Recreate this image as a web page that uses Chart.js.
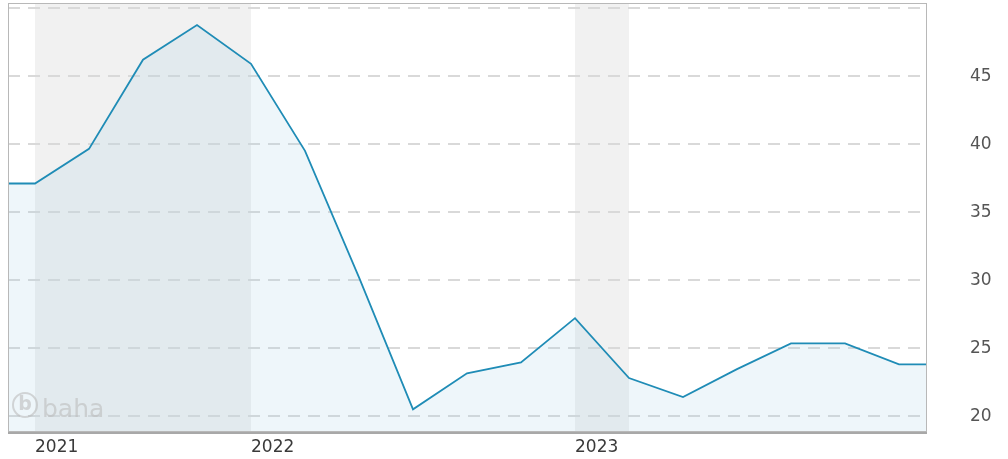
<!DOCTYPE html>
<html>
<head>
<meta charset="utf-8">
<script src="https://cdn.jsdelivr.net/npm/chart.js@4.4.0/dist/chart.umd.min.js"></script>
<style>
  html, body { margin: 0; padding: 0; background: #fff; overflow: hidden; }
  canvas { display: block; }
</style>
</head>
<body>
<canvas id="priceChart" width="1008" height="459"></canvas>
<script>
// values per period, first and last entries run past the visible range
const values = [37.1, 37.1, 39.65, 46.2, 48.75, 45.9, 39.5, 30.2, 20.5, 23.15, 23.95,
                27.2, 22.8, 21.4, 23.45, 25.35, 25.35, 23.8, 23.8];
const yearTicks = [0, 4, 10];
const yearLabels = ['2021', '2022', '2023'];
const bandFrom = [0, 10];
const bandTo = [4, 11];
const yTicks = [20, 25, 30, 35, 40, 45, 50];

const points = values.map((v, i) => ({ x: i - 1, y: v }));

const bands = {
    id: 'bands',
    beforeDraw(chart) {
        const { ctx, chartArea, scales } = chart;
        ctx.save();
        ctx.fillStyle = '#f1f1f1';
        bandFrom.forEach((f, i) => {
            const x1 = scales.x.getPixelForValue(f);
            const x2 = scales.x.getPixelForValue(bandTo[i]);
            ctx.fillRect(x1, chartArea.top, x2 - x1, chartArea.bottom - chartArea.top);
        });
        ctx.restore();
    }
};

const frame = {
    id: 'frame',
    afterDraw(chart) {
        const { ctx, chartArea: a } = chart;
        ctx.save();
        // watermark
        ctx.globalAlpha = 0.6;
        ctx.strokeStyle = '#bdbdbd';
        ctx.fillStyle = '#bdbdbd';
        ctx.lineWidth = 2;
        ctx.beginPath();
        ctx.arc(a.left + 17, a.bottom - 27, 12, 0, Math.PI * 2);
        ctx.stroke();
        ctx.font = 'bold 19px "DejaVu Sans"';
        ctx.textAlign = 'center';
        ctx.textBaseline = 'middle';
        ctx.fillText('b', a.left + 17, a.bottom - 27);
        ctx.font = '25px "DejaVu Sans"';
        ctx.textAlign = 'left';
        ctx.textBaseline = 'alphabetic';
        ctx.fillText('baha', a.left + 34, a.bottom - 15);
        ctx.globalAlpha = 1;
        // frame
        ctx.strokeStyle = '#b8b8b8';
        ctx.lineWidth = 1;
        ctx.strokeRect(a.left + 0.5, a.top - 0.5, a.right - a.left, a.bottom - a.top);
        ctx.strokeStyle = '#a8a8a8';
        ctx.lineWidth = 2;
        ctx.beginPath();
        ctx.moveTo(a.left, a.bottom + 1);
        ctx.lineTo(a.right + 1, a.bottom + 1);
        ctx.stroke();
        ctx.restore();
    }
};

const ctx = document.getElementById('priceChart').getContext('2d');

const priceChart = new Chart(ctx, {
    type: 'line',
    data: {
        datasets: [{
            data: points,
            borderColor: '#1f8cb6',
            borderWidth: 1.8,
            backgroundColor: 'rgba(170, 212, 228, 0.2)',
            fill: 'start',
            pointRadius: 0,
            tension: 0,
        }]
    },
    options: {
        responsive: false,
        animation: false,
        devicePixelRatio: 1,
        layout: { padding: { left: 8, top: 4, right: 0, bottom: 0 } },
        plugins: {
            legend: { display: false },
            tooltip: { enabled: false },
        },
        scales: {
            x: {
                type: 'linear',
                min: -0.5,
                max: 16.5,
                afterBuildTicks: (axis) => { axis.ticks = yearTicks.map(v => ({ value: v })); },
                afterFit: (axis) => {
                    axis.height = 27;
                    axis.paddingLeft = 0;
                    axis.paddingRight = 0;
                },
                grid: { display: false, drawTicks: false },
                border: { display: false },
                ticks: {
                    autoSkip: false,
                    maxRotation: 0,
                    align: 'start',
                    padding: 5,
                    color: '#3a3a3a',
                    font: { family: 'DejaVu Sans', size: 17 },
                    callback: (v) => yearLabels[yearTicks.indexOf(v)],
                }
            },
            y: {
                position: 'right',
                min: 18.83,
                max: 50.3,
                afterBuildTicks: (axis) => { axis.ticks = yTicks.map(v => ({ value: v })); },
                afterFit: (axis) => {
                    axis.width = 82;
                    axis.paddingTop = 0;
                    axis.paddingBottom = 0;
                },
                grid: { color: '#d9d9d9', lineWidth: 2, drawTicks: false },
                border: { display: false, dash: [12, 8] },
                ticks: {
                    padding: 44,
                    color: '#555',
                    font: { family: 'DejaVu Sans', size: 17 },
                    callback: (v) => v === 50 ? '' : v,
                }
            }
        }
    },
    plugins: [bands, frame]
});
</script>
</body>
</html>
